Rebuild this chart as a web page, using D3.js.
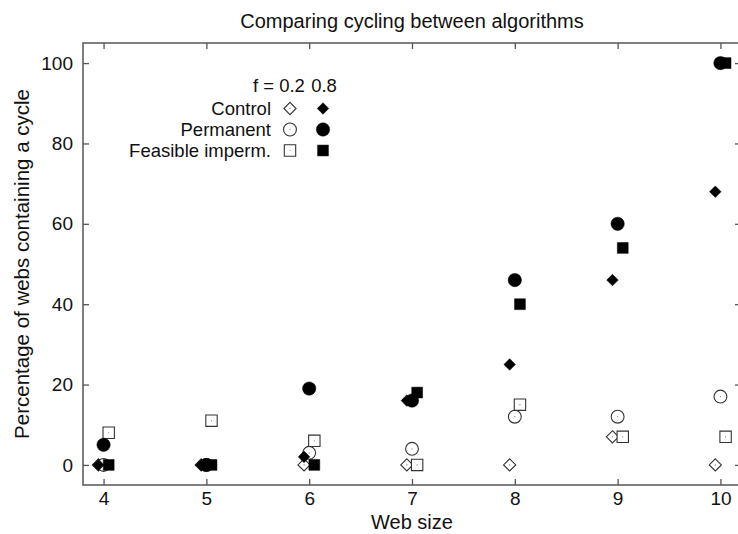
<!DOCTYPE html>
<html>
<head>
<meta charset="utf-8">
<script src="https://cdn.jsdelivr.net/npm/d3@7"></script>
<style>
  body { margin: 0; background: #fff; }
  text { font-family: "Liberation Sans", Arial, sans-serif; fill: #111; }
</style>
</head>
<body>
<div id="chart"></div>
<script>
// web sizes on the x axis
var webSizes = [4, 5, 6, 7, 8, 9, 10];
var xTicks = [4, 5, 6, 7, 8, 9, 10];
var yTicks = [0, 20, 40, 60, 80, 100];

// percentage of webs containing a cycle, f = 0.2 (open) and f = 0.8 (filled)
var controlLow = [0, 0, 0, 0, 0, 7, 0];
var controlHigh = [0, 0, 2, 16, 25, 46, 68];
var permanentLow = [0, 0, 3, 4, 12, 12, 17];
var permanentHigh = [5, 0, 19, 16, 46, 60, 100];
var feasibleLow = [8, 11, 6, 0, 15, 7, 7];
var feasibleHigh = [0, 0, 0, 18, 40, 54, 100];

var seriesNames = ['Control', 'Permanent', 'Feasible imperm.'];
var fLabels = ['0.2', '0.8'];

var W = 738, H = 534;
var mLeft = 83, mRight = 741, mTop = 43, mBottom = 485;

var x = d3.scaleLinear().domain([3.8, 10.2]).range([mLeft, mRight]);
var y = d3.scaleLinear().domain([-5, 105]).range([mBottom, mTop]);

var svg = d3.select('#chart').append('svg')
  .attr('width', W)
  .attr('height', H);

var axisColor = '#555';

// frame
svg.append('rect')
  .attr('x', mLeft).attr('y', mTop)
  .attr('width', mRight - mLeft).attr('height', mBottom - mTop)
  .attr('fill', 'none').attr('stroke', axisColor).attr('stroke-width', 1.5);

function styleAxis(g){
  g.select('.domain').remove();
  g.selectAll('.tick line').attr('stroke', axisColor).attr('stroke-width', 1.3);
  g.selectAll('.tick text').style('font-size', '19px').attr('fill', '#111');
}

svg.append('g')
  .attr('transform', 'translate(0,' + mBottom + ')')
  .call(d3.axisBottom(x).tickValues(xTicks).tickFormat(d3.format('d')).tickSize(-6).tickPadding(7))
  .call(styleAxis);

svg.append('g')
  .attr('transform', 'translate(0,' + mTop + ')')
  .call(d3.axisTop(x).tickValues(xTicks).tickSize(-6).tickFormat(''))
  .call(styleAxis);

svg.append('g')
  .attr('transform', 'translate(' + mLeft + ',0)')
  .call(d3.axisLeft(y).tickValues(yTicks).tickSize(-6).tickPadding(10))
  .call(styleAxis);

svg.append('g')
  .attr('transform', 'translate(' + mRight + ',0)')
  .call(d3.axisRight(y).tickValues(yTicks).tickSize(-6).tickFormat(''))
  .call(styleAxis);

// titles
svg.append('text')
  .attr('x', (mLeft + mRight) / 2).attr('y', 28)
  .attr('text-anchor', 'middle')
  .style('font-size', '20px')
  .text('Comparing cycling between algorithms');

svg.append('text')
  .attr('x', x(7)).attr('y', 529)
  .attr('text-anchor', 'middle')
  .style('font-size', '20px')
  .text('Web size');

svg.append('text')
  .attr('transform', 'translate(29,' + y(50) + ') rotate(-90)')
  .attr('text-anchor', 'middle')
  .style('font-size', '20.5px')
  .text('Percentage of webs containing a cycle');

// markers
var shapes = [d3.symbolDiamond2, d3.symbolCircle, d3.symbolSquare2];
var sizes = [{open: 95, filled: 85}, {open: 130, filled: 140}, {open: 165, filled: 150}];
var offsets = [-0.05, 0, 0.05];

function drawMarker(g, i, filled, cx, cy){
  var sz = filled ? sizes[i].filled : sizes[i].open;
  var path = d3.symbol().type(shapes[i]).size(sz)();
  var m = g.append('g').attr('transform', 'translate(' + cx + ',' + cy + ')');
  m.append('path')
    .attr('d', path)
    .attr('fill', filled ? '#000' : '#fff')
    .attr('stroke', filled ? '#000' : '#333')
    .attr('stroke-width', filled ? 0.5 : 1.1);
  if (!filled) {
    m.append('circle').attr('r', 0.6).attr('fill', '#777');
  }
}

var lowSeries = [controlLow, permanentLow, feasibleLow];
var highSeries = [controlHigh, permanentHigh, feasibleHigh];

var plot = svg.append('g');
[0, 1, 2].forEach(function(i){
  lowSeries[i].forEach(function(v, j){
    drawMarker(plot, i, false, x(webSizes[j] + offsets[i]), y(v));
  });
});
[0, 1, 2].forEach(function(i){
  highSeries[i].forEach(function(v, j){
    drawMarker(plot, i, true, x(webSizes[j] + offsets[i]), y(v));
  });
});

// legend
var legend = svg.append('g');
var colLow = 290, colHigh = 323, labelX = 271;
legend.append('text')
  .attr('x', 274).attr('y', 92)
  .attr('text-anchor', 'end')
  .style('font-size', '18.5px')
  .text('f =');
legend.append('text')
  .attr('x', 292).attr('y', 92)
  .attr('text-anchor', 'middle')
  .style('font-size', '18.5px')
  .text(fLabels[0]);
legend.append('text')
  .attr('x', 324).attr('y', 92)
  .attr('text-anchor', 'middle')
  .style('font-size', '18.5px')
  .text(fLabels[1]);

seriesNames.forEach(function(name, i){
  var ry = 108.5 + i * 21;
  legend.append('text')
    .attr('x', labelX).attr('y', ry + 6)
    .attr('text-anchor', 'end')
    .style('font-size', '18.5px')
    .text(name);
  drawMarker(legend, i, false, colLow, ry);
  drawMarker(legend, i, true, colHigh, ry);
});
</script>
</body>
</html>
